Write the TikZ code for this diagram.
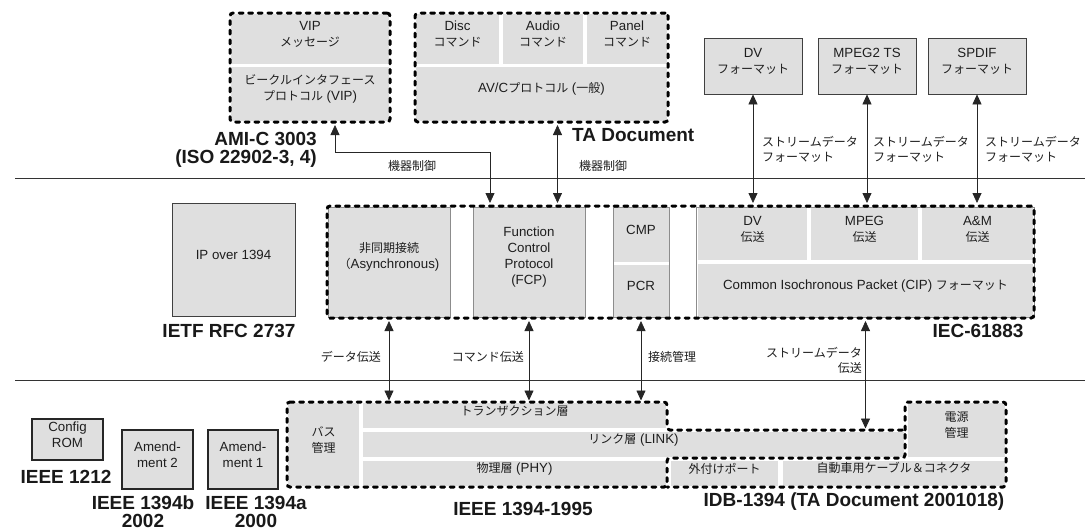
\documentclass[tikz,border=0pt]{standalone}
\usepackage{fontspec}
\setmainfont{Liberation Sans}
\newfontfamily\jpf{Noto Sans CJK JP}
\newcommand\J[1]{{\jpf\fontsize{12}{16}\selectfont #1}}
\usetikzlibrary{arrows.meta,fit,calc}
\definecolor{cellgray}{RGB}{223,223,223}
\definecolor{txt}{RGB}{30,30,30}
\begin{document}
\begin{tikzpicture}[x=1pt,y=-1pt,
 cellbox/.style={fill=cellgray, inner sep=0pt, align=center, text=txt, font=\fontsize{13.3}{16}\selectfont},
 fmtbox/.style={cellbox, draw=black!75, line width=0.8pt},
 stdbox/.style={cellbox, draw=black!85, line width=1.6pt},
 grayedge/.style={draw=black!45, line width=0.8pt},
 dashframe/.style={draw=black, line width=3pt, dash pattern=on 4pt off 5.6pt, line cap=round, rounded corners=3pt, inner sep=0pt},
 biglabel/.style={font=\fontsize{19}{17.5}\selectfont\bfseries, inner sep=0pt, text=black!90},
 lbl/.style={font=\fontsize{13.3}{15}\selectfont, inner sep=0pt, text=txt},
 arr/.style={draw=black!85, line width=0.8pt, {Triangle[length=10pt,width=9pt]}-{Triangle[length=10pt,width=9pt]}},
 layerline/.style={draw=black!80, line width=0.8pt}]
\fill[white] (0,0) rectangle (1085,530);
\useasboundingbox (0,0) rectangle (1085,530);

% ---------- top layer ----------
\node[cellbox, fit={(231,14) (389,64)}] (vipmsg) {VIP\\\J{メッセージ}};
\node[cellbox, fit={(231,67) (389,121)}] (vipproto) {\J{ビークルインタフェース}\\\J{プロトコル} (VIP)};
\node[dashframe, fit={(230,13) (390,122)}] (vipframe) {};

\node[cellbox, fit={(416,14) (499,64)}] (disc) {Disc\\\J{コマンド}};
\node[cellbox, fit={(503,14) (583,64)}] (audio) {Audio\\\J{コマンド}};
\node[cellbox, fit={(587,14) (667,64)}] (panel) {Panel\\\J{コマンド}};
\node[cellbox, fit={(416,67) (667,121)}] (avc) {AV/C\J{プロトコル} (\J{一般})};
\node[dashframe, fit={(415,13) (668,122)}] (taframe) {};

\node[biglabel, align=right, anchor=east] (amilbl) at (317,150) {AMI-C 3003\\(ISO 22902-3, 4)};
\node[biglabel, anchor=west] (talbl) at (572,135) {TA Document};

\node[fmtbox, fit={(704,38) (802,94)}] (dvfmt) {DV\\\J{フォーマット}};
\node[fmtbox, fit={(818,38) (916,94)}] (mpegfmt) {MPEG2 TS\\\J{フォーマット}};
\node[fmtbox, fit={(928,38) (1026,94)}] (spdiffmt) {SPDIF\\\J{フォーマット}};

% ---------- layer lines ----------
\draw[layerline] (15,178) -- (1085,178);
\draw[layerline] (15,380) -- (1085,380);

% ---------- middle layer ----------
\node[fmtbox, fit={(172,203) (295,316)}] (ipbox) {IP over 1394};
\node[biglabel] (ietf) at (229,331) {IETF RFC 2737};

\node[cellbox, grayedge, fit={(328,207) (450,317)}] (async) {\J{非同期接続}\\\J{（}Asynchronous)};
\node[cellbox, grayedge, fit={(473,207) (585,317)}] (fcp) {Function\\Control\\Protocol\\(FCP)};
\node[cellbox, fit={(613,207) (669,262)}] (cmp) {CMP};
\node[cellbox, fit={(613,265) (669,317)}] (pcr) {PCR};
\node[grayedge, inner sep=0pt, fit={(613,207) (669,317)}] (cmpgrp) {};
\node[cellbox, fit={(698,207) (807,260)}] (dvt) {DV\\\J{伝送}};
\node[cellbox, fit={(811,207) (918,260)}] (mpegt) {MPEG\\\J{伝送}};
\node[cellbox, fit={(922,207) (1033,260)}] (amt) {A\&M\\\J{伝送}};
\node[cellbox, fit={(698,264) (1033,317)}] (cip) {Common Isochronous Packet (CIP) \J{フォーマット}};
\node[grayedge, inner sep=0pt, fit={(696,207) (1034,317)}] (streamgrp) {};
\node[dashframe, fit={(327,206) (1034,318)}] (midframe) {};
\node[biglabel] (ieclbl) at (978,331) {IEC-61883};

% ---------- bottom layer ----------
\node[stdbox, fit={(32,419) (103,460)}] (cfgrom) {Config\\ROM};
\node[biglabel] (l1212) at (66,477) {IEEE 1212};
\node[stdbox, fit={(122,430) (193,489)}] (amd2) {Amend-\\ment 2};
\node[biglabel, align=center, font=\fontsize{19}{18}\selectfont\bfseries] (l1394b) at (143,512) {IEEE 1394b\\2002};
\node[stdbox, fit={(208,430) (278,489)}] (amd1) {Amend-\\ment 1};
\node[biglabel, align=center, font=\fontsize{19}{18}\selectfont\bfseries] (l1394a) at (256,512) {IEEE 1394a\\2000};

\node[cellbox, fit={(288,403) (359,486)}] (busm) {\J{バス}\\\J{管理}};
\node[cellbox, fit={(363,403) (666,428)}] (trans) {\J{トランザクション層}};
\node[cellbox, fit={(363,432) (904,457)}] (link) {\J{リンク層} (LINK)};
\node[cellbox, fit={(363,461) (666,486)}] (phy) {\J{物理層} (PHY)};
\node[cellbox, fit={(671,461) (778,486)}] (port) {\J{外付けポート}};
\node[cellbox, fit={(783,461) (1005,486)}] (cable) {\J{自動車用ケーブル＆コネクタ}};
\node[cellbox, fit={(908,403) (1005,457)}] (power) {\J{電源}\\\J{管理}};

\coordinate (btop) at (287,402);
\coordinate (linktop) at (667,430);
\draw[dashframe] (287,402) -- (667,402) -- (667,430) -- (905,430) -- (905,458) -- (667,458) -- (667,487) -- (287,487) -- cycle;
\draw[dashframe] (905,430) -- (905,402) -- (1006,402) -- (1006,487) -- (667,487);

\node[biglabel] (l1995) at (523,509) {IEEE 1394-1995};
\node[biglabel] (lidb) at (854,502) {IDB-1394 (TA Document 2001018)};

% ---------- connectors ----------
\draw[arr, shorten <=1.5pt, shorten >=1.5pt] ([xshift=25pt]vipframe.south) -- ++(0,29) -| ([xshift=-39pt]fcp.north |- midframe.north);
\draw[arr, shorten <=1.5pt, shorten >=1.5pt] ([xshift=16pt]taframe.south) -- ([xshift=16pt]taframe.south |- midframe.north);
\draw[arr, shorten >=1.5pt] (dvfmt.south) -- (dvfmt.south |- midframe.north);
\draw[arr, shorten >=1.5pt] (mpegfmt.south) -- (mpegfmt.south |- midframe.north);
\draw[arr, shorten >=1.5pt] (spdiffmt.south) -- (spdiffmt.south |- midframe.north);

\node[lbl] (ctl1) at (412,166) {\J{機器制御}};
\node[lbl] (ctl2) at (603,166) {\J{機器制御}};
\node[lbl, align=left, anchor=west] (sf1) at (762,149) {\J{ストリームデータ}\\\J{フォーマット}};
\node[lbl, align=left, anchor=west] (sf2) at (873,149) {\J{ストリームデータ}\\\J{フォーマット}};
\node[lbl, align=left, anchor=west] (sf3) at (985,149) {\J{ストリームデータ}\\\J{フォーマット}};

\draw[arr, shorten <=1.5pt, shorten >=1.5pt] (async.south |- midframe.south) -- (async.south |- btop);
\draw[arr, shorten <=1.5pt, shorten >=1.5pt] (fcp.south |- midframe.south) -- (fcp.south |- btop);
\draw[arr, shorten <=1.5pt, shorten >=1.5pt] (cmpgrp.south |- midframe.south) -- (cmpgrp.south |- btop);
\draw[arr, shorten <=1.5pt, shorten >=1.5pt] (cip.south |- midframe.south) -- (cip.south |- linktop);

\node[lbl, anchor=east] (dlbl) at (381,357) {\J{データ伝送}};
\node[lbl, anchor=east] (clbl) at (524,357) {\J{コマンド伝送}};
\node[lbl, anchor=west] (mlbl) at (648,357) {\J{接続管理}};
\node[lbl, align=right, anchor=east] (slbl) at (862,360) {\J{ストリームデータ}\\\J{伝送}};
\end{tikzpicture}
\end{document}
